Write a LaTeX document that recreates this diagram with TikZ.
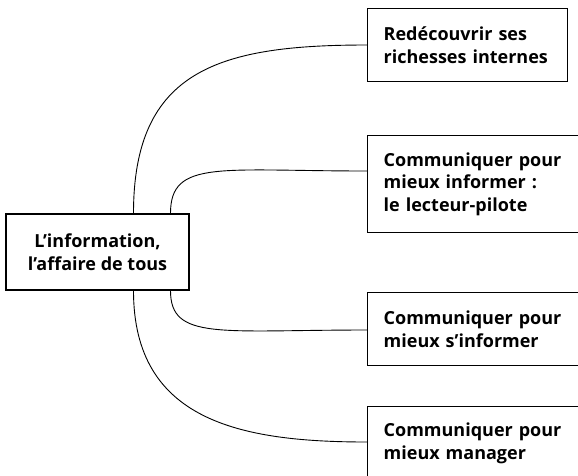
\documentclass[tikz,border=0pt]{standalone}
\usepackage{fontspec}
\setmainfont{Open Sans}
\usepackage{tikz}
\usetikzlibrary{positioning, calc}
\tikzset{
  % Boîtes
  box/.style={draw,line width=1.4pt,inner ysep=0pt,font=\bfseries\fontsize{18}{22.5}\selectfont},
  box main/.style={box,align=center,minimum width=183,minimum height=76,inner xsep=0pt},
  box leaf/.style={box,align=left,anchor=north west,inner xsep=16pt,minimum height=73},
  % Connexions
  link/.style={line width=0.9pt}
}
\begin{document}
\begin{tikzpicture}[x=1pt,y=-1pt]
    \useasboundingbox (0,0) rectangle (578,475);
    \clip (0,0) rectangle (578,475);
    \node[box main] (info) at (97.5,252) {L’information,\\l’affaire de tous};
    \node[box leaf,text width=168] (r1) at (367,8) {Redécouvrir ses\\richesses internes};
    \node[box leaf,text width=200,minimum height=97] (r2) at (367,135) {Communiquer pour\\mieux informer :\\le lecteur-pilote};
    \node[box leaf,text width=200] (r3) at (367,292) {Communiquer pour\\mieux s’informer};
    \node[box leaf,text width=200] (r4) at (367,406) {Communiquer pour\\mieux manager};
    \draw[link] ([xshift=36]info.north) .. controls +(0,-144) and +(-147,0) .. ([yshift=-37]r1.north west);
    \draw[link] ([xshift=73]info.north) .. controls +(0,-54) and +(-147,0) .. ([yshift=-36]r2.north west);
    \draw[link] ([xshift=73]info.south) .. controls +(0,50) and +(-147,0) .. ([yshift=-38]r3.north west);
    \draw[link] ([xshift=36]info.south) .. controls +(0,130) and +(-127,0) .. ([yshift=-36]r4.north west);
  \end{tikzpicture}
\end{document}
